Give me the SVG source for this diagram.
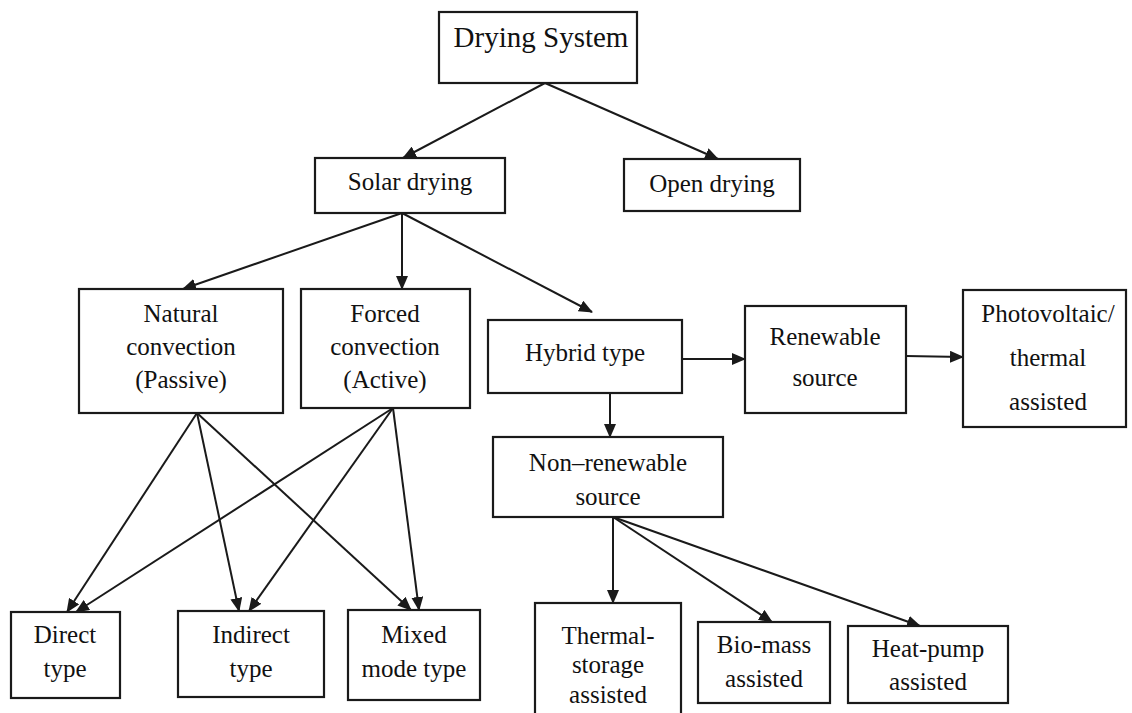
<svg xmlns="http://www.w3.org/2000/svg" width="1132" height="713" viewBox="0 0 1132 713">
  <style>
    .box { fill: #ffffff; stroke: #1a1a1a; stroke-width: 2.2; }
    .lbl { font-size: 25px; fill: #111111; text-anchor: middle; }
    .title { font-size: 29px; }
    .edge { fill: none; stroke: #1a1a1a; stroke-width: 2; marker-end: url(#head); }
  </style>
  <defs>
    <marker id="head" markerUnits="userSpaceOnUse" markerWidth="14" markerHeight="12" refX="13" refY="6" orient="auto">
      <path d="M0,0 L14,6 L0,12 Z" fill="#1a1a1a"/>
    </marker>
  </defs>
  <rect width="1132" height="713" fill="#ffffff"/>

  <g id="connectors">
    <line class="edge" x1="545" y1="83" x2="403" y2="158"/>
    <line class="edge" x1="545" y1="83" x2="718" y2="159"/>
    <line class="edge" x1="402" y1="213" x2="183" y2="289"/>
    <line class="edge" x1="402" y1="213" x2="402" y2="289"/>
    <line class="edge" x1="402" y1="213" x2="592" y2="312"/>
    <line class="edge" x1="682" y1="359" x2="745" y2="359"/>
    <line class="edge" x1="906" y1="356" x2="963" y2="357"/>
    <line class="edge" x1="610" y1="393" x2="610" y2="437"/>
    <line class="edge" x1="197" y1="413" x2="67" y2="612"/>
    <line class="edge" x1="197" y1="413" x2="239" y2="611"/>
    <line class="edge" x1="197" y1="413" x2="411" y2="610"/>
    <line class="edge" x1="393" y1="408" x2="76" y2="612"/>
    <line class="edge" x1="393" y1="408" x2="249" y2="611"/>
    <line class="edge" x1="393" y1="408" x2="419" y2="610"/>
    <line class="edge" x1="613" y1="517" x2="613" y2="603"/>
    <line class="edge" x1="613" y1="517" x2="772" y2="622"/>
    <line class="edge" x1="613" y1="517" x2="920" y2="626"/>
  </g>

  <g font-family="Liberation Serif, Times New Roman, Tinos, Noto Serif, DejaVu Serif, serif">
  <g id="drying-system">
    <rect class="box" x="439" y="12" width="198" height="71"/>
    <text class="lbl title" x="541" y="47">Drying System</text>
  </g>
  <g id="solar-drying">
    <rect class="box" x="315" y="158" width="190" height="55"/>
    <text class="lbl" x="410" y="190">Solar drying</text>
  </g>
  <g id="open-drying">
    <rect class="box" x="624" y="159" width="176" height="52"/>
    <text class="lbl" x="712" y="192">Open drying</text>
  </g>
  <g id="natural-convection">
    <rect class="box" x="79" y="289" width="204" height="124"/>
    <text class="lbl" x="181" y="322">Natural</text>
    <text class="lbl" x="181" y="355">convection</text>
    <text class="lbl" x="181" y="388">(Passive)</text>
  </g>
  <g id="forced-convection">
    <rect class="box" x="301" y="289" width="169" height="119"/>
    <text class="lbl" x="385" y="322">Forced</text>
    <text class="lbl" x="385" y="355">convection</text>
    <text class="lbl" x="385" y="388">(Active)</text>
  </g>
  <g id="hybrid-type">
    <rect class="box" x="488" y="320" width="194" height="73"/>
    <text class="lbl" x="585" y="361">Hybrid type</text>
  </g>
  <g id="renewable-source">
    <rect class="box" x="745" y="306" width="161" height="107"/>
    <text class="lbl" x="825" y="345">Renewable</text>
    <text class="lbl" x="825" y="386">source</text>
  </g>
  <g id="photovoltaic-thermal">
    <rect class="box" x="963" y="290" width="163" height="137"/>
    <text class="lbl" x="1048" y="322">Photovoltaic/</text>
    <text class="lbl" x="1048" y="366">thermal</text>
    <text class="lbl" x="1048" y="410">assisted</text>
  </g>
  <g id="non-renewable-source">
    <rect class="box" x="493" y="437" width="230" height="80"/>
    <text class="lbl" x="608" y="471">Non–renewable</text>
    <text class="lbl" x="608" y="505">source</text>
  </g>
  <g id="direct-type">
    <rect class="box" x="11" y="612" width="109" height="86"/>
    <text class="lbl" x="65" y="643">Direct</text>
    <text class="lbl" x="65" y="677">type</text>
  </g>
  <g id="indirect-type">
    <rect class="box" x="178" y="611" width="146" height="86"/>
    <text class="lbl" x="251" y="643">Indirect</text>
    <text class="lbl" x="251" y="677">type</text>
  </g>
  <g id="mixed-mode-type">
    <rect class="box" x="348" y="610" width="132" height="90"/>
    <text class="lbl" x="414" y="643">Mixed</text>
    <text class="lbl" x="414" y="677">mode type</text>
  </g>
  <g id="thermal-storage">
    <rect class="box" x="535" y="603" width="146" height="120"/>
    <text class="lbl" x="608" y="644">Thermal-</text>
    <text class="lbl" x="608" y="673">storage</text>
    <text class="lbl" x="608" y="703">assisted</text>
  </g>
  <g id="bio-mass">
    <rect class="box" x="698" y="622" width="132" height="81"/>
    <text class="lbl" x="764" y="653">Bio-mass</text>
    <text class="lbl" x="764" y="687">assisted</text>
  </g>
  <g id="heat-pump">
    <rect class="box" x="848" y="626" width="160" height="77"/>
    <text class="lbl" x="928" y="657">Heat-pump</text>
    <text class="lbl" x="928" y="690">assisted</text>
  </g>
  </g>
</svg>
